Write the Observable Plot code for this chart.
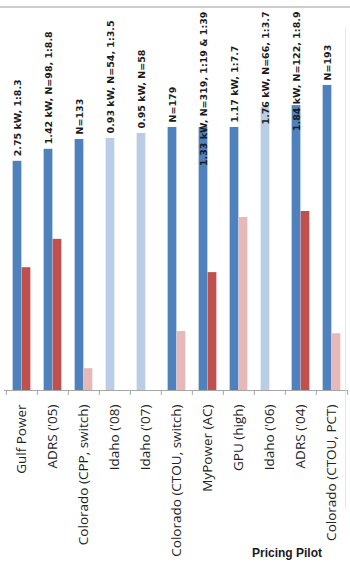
<!DOCTYPE html>
<html><head><meta charset="utf-8">
<script src="https://cdn.jsdelivr.net/npm/d3@7"></script>
<script src="https://cdn.jsdelivr.net/npm/@observablehq/plot@0.6"></script>
<style>
body{margin:0;background:#fff;}
#wrap{position:relative;width:350px;height:574px;overflow:hidden;background:#fff;}
#topline{position:absolute;left:0;top:6px;width:350px;height:2px;background:#cdcdcd;}
#rightline{position:absolute;left:345px;top:28px;width:1px;height:480px;background:#e6e6e6;}
#title{position:absolute;left:252px;top:546px;font:bold 12px "Liberation Sans",Arial,sans-serif;color:#1a1a1a;white-space:nowrap;}
#chart{position:absolute;left:0;top:0;}
</style></head><body>
<div id="wrap"><div id="chart"></div><div id="topline"></div><div id="rightline"></div><div id="title">Pricing Pilot</div></div>
<script>
const categories = ["Gulf Power","ADRS ('05)","Colorado (CPP, switch)","Idaho ('08)","Idaho ('07)","Colorado (CTOU, switch)","MyPower (AC)","GPU (high)","Idaho ('06)","ADRS ('04)","Colorado (CTOU, PCT)"];
const withTech    = [42.0, 44.2, 46.0, 46.2, 47.1, 48.2, 48.2, 48.2, 51.9, 52.2, 55.9];
const withoutTech = [22.5, 27.7, 4.0, null, null, 10.8, 21.6, 31.7, null, 32.8, 10.4];
const techShade    = ["dark","dark","dark","light","light","dark","dark","dark","light","dark","dark"];
const noTechShade  = ["dark","dark","light",null,null,"light","dark","light",null,"dark","light"];
const barLabels = ["2.75 kW, 1:8.3","1.42 kW, N=98, 1:8.8","N=133","0.93 kW, N=54, 1:3.5","0.95 kW, N=58","N=179","1.33 kW, N=319, 1:19 & 1:39","1.17 kW, 1:7.7","1.76 kW, N=66, 1:3.7","1.84 kW, N=122, 1:8.9","N=193"];

const techRows = categories.map((c,i)=>({cat:c, v:withTech[i], key:"tech-"+techShade[i], label:barLabels[i]}));
const noTechRows = categories.map((c,i)=>({cat:c, v:withoutTech[i], key:"notech-"+noTechShade[i]})).filter(d=>d.v!=null);

const W=350, H=574, mL=4, mR=2;
const step=(W-mL-mR)/categories.length;
const bw=9;

const chart = Plot.plot({
  width:W, height:H, marginTop:8, marginBottom:184, marginLeft:mL, marginRight:mR,
  style:{fontFamily:"'Liberation Sans', Arial, sans-serif", background:"white", overflow:"visible"},
  x:{domain:categories, type:"band", padding:0, axis:null},
  y:{domain:[0,70], axis:null},
  color:{domain:["tech-dark","tech-light","notech-dark","notech-light"], range:["#4F81BD","#B9CDE5","#C0504D","#E6B9B8"]},
  marks:[
    Plot.barY(techRows,{x:"cat", y:"v", fill:"key", insetLeft:step/2-bw, insetRight:step/2}),
    Plot.barY(noTechRows,{x:"cat", y:"v", fill:"key", insetLeft:step/2, insetRight:step/2-bw}),
    Plot.ruleY([0],{stroke:"#a6a6a6"}),
    Plot.ruleX(categories,{x:d=>d, dx:-step/2, y1:0, y2:-0.9, stroke:"#a6a6a6"}),
    Plot.ruleX([categories[categories.length-1]],{x:d=>d, dx:step/2, y1:0, y2:-0.9, stroke:"#a6a6a6"}),
    Plot.axisX({tickSize:0, tickRotate:-90, tickPadding:14, fontSize:13.5, fontFamily:"'Open Sans', sans-serif", fill:"#222", label:null}),
    Plot.text(techRows,{x:"cat", y:"v", text:"label", rotate:-90, textAnchor:"start", dx:-bw/2, dy:-5, fontSize:9.5, fontWeight:"bold", fontFamily:"'DejaVu Sans', sans-serif", fill:"#1a1a1a"})
  ]
});
document.getElementById("chart").appendChild(chart);
// keep long labels inside the chart area (pushed down like the original)
const labelGroup = Array.from(chart.querySelectorAll('g[aria-label="text"]')).pop();
if (labelGroup) {
  labelGroup.querySelectorAll("text").forEach(t=>{
    const len = t.getComputedTextLength();
    const m = /translate\(([-\d.e]+),\s*([-\d.e]+)\)/.exec(t.getAttribute("transform"));
    if (!m) return;
    const x=+m[1], y=+m[2];
    const top = y - 5 - len;
    if (top < 11) {
      const ny = 11 + len + 5;
      t.setAttribute("transform", `translate(${x},${ny}) rotate(-90)`);
    }
  });
}
</script>
</body></html>
